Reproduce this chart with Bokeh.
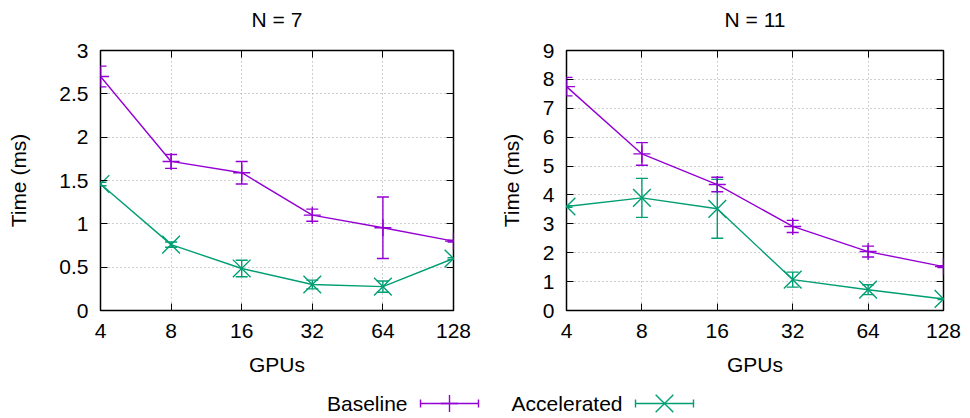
from bokeh.plotting import figure
from bokeh.models import (Range1d, FixedTicker, Whisker, ColumnDataSource, LogAxis,
                          LinearAxis, TeeHead, CustomJSTickFormatter)
from bokeh.layouts import column, row
from bokeh.embed import file_html
from bokeh.resources import INLINE
from bokeh.core.properties import value

# ---------------- data ----------------
GPUS = [4, 8, 16, 32, 64, 128]
GPU_LABELS = ["4", "8", "16", "32", "64", "128"]
PANEL_TITLES = ["N = 7", "N = 11"]

N7_YTICKS = [0, 0.5, 1, 1.5, 2, 2.5, 3]
N7_BASE = [2.70, 1.72, 1.59, 1.10, 0.955, 0.80]
N7_BASE_ERR = [0.12, 0.08, 0.13, 0.07, 0.355, 0.01]
N7_ACC = [1.46, 0.76, 0.485, 0.30, 0.275, 0.60]
N7_ACC_ERR = [0.02, 0.03, 0.095, 0.05, 0.065, 0.01]

N11_YTICKS = [0, 1, 2, 3, 4, 5, 6, 7, 8, 9]
N11_BASE = [7.75, 5.42, 4.36, 2.91, 2.04, 1.52]
N11_BASE_ERR = [0.32, 0.39, 0.25, 0.21, 0.19, 0.03]
N11_ACC = [3.60, 3.90, 3.52, 1.07, 0.72, 0.40]
N11_ACC_ERR = [0.03, 0.675, 1.02, 0.26, 0.17, 0.02]

SERIES_NAMES = ["Baseline", "Accelerated"]

# ---------------- style ----------------
FONT = "Liberation Sans"
FS = "21px"
PURPLE = "#9400D3"
GREEN = "#009E73"
LW = 1.4
PLUS_SIZE = 17
X_SIZE = 25
HEADER_H = 40


def style_axis(ax, show_labels=True):
    ax.axis_line_color = None
    ax.major_tick_in = 7
    ax.major_tick_out = 0
    ax.minor_tick_in = 0
    ax.minor_tick_out = 0
    ax.major_tick_line_color = "black"
    ax.major_tick_line_width = 1
    ax.major_label_text_font = FONT
    ax.major_label_text_font_size = FS if show_labels else "2px"
    ax.major_label_text_color = "black"
    ax.axis_label_text_font = FONT
    ax.axis_label_text_font_size = FS
    ax.axis_label_text_font_style = "normal"
    ax.axis_label_text_color = "black"


def add_series(p, ys, errs, color, marker, msize):
    src = ColumnDataSource(dict(
        x=GPUS, y=ys,
        lo=[y - e for y, e in zip(ys, errs)],
        hi=[y + e for y, e in zip(ys, errs)],
    ))
    p.line("x", "y", source=src, line_color=color, line_width=LW)
    w = Whisker(base="x", lower="lo", upper="hi", source=src, dimension="height",
                line_color=color, line_width=LW,
                upper_head=TeeHead(size=12, line_color=color, line_width=LW),
                lower_head=TeeHead(size=12, line_color=color, line_width=LW))
    p.add_layout(w)
    p.scatter("x", "y", source=src, marker=marker, size=msize,
              line_color=color, fill_color=None, line_width=LW)


def make_panel(ymax, yticks, base, base_err, acc, acc_err,
               width, bl, br, ylab_standoff):
    p = figure(width=width, height=380 - HEADER_H, x_axis_type="log",
               x_range=Range1d(4, 128), y_range=Range1d(0, ymax),
               output_backend="svg", toolbar_location=None,
               min_border_left=bl, min_border_right=br,
               min_border_top=50 - HEADER_H, min_border_bottom=70)
    p.background_fill_color = "white"
    p.border_fill_color = "white"
    p.outline_line_color = "black"
    p.outline_line_width = 1.5

    xt = FixedTicker(ticks=GPUS, minor_ticks=[])
    yt = FixedTicker(ticks=yticks, minor_ticks=[])

    p.xaxis.ticker = xt
    p.xaxis.formatter = CustomJSTickFormatter(code="return String(tick)")
    p.xaxis.major_label_overrides = {g: l for g, l in zip(GPUS, GPU_LABELS)}
    p.xaxis.axis_label = "GPUs"
    p.xaxis.major_label_standoff = 13
    p.xaxis.axis_label_standoff = 12
    p.yaxis.ticker = yt
    p.yaxis.formatter = CustomJSTickFormatter(code="return String(tick)")
    p.yaxis.axis_label = "Time (ms)"
    p.yaxis.major_label_standoff = 12
    p.yaxis.axis_label_standoff = ylab_standoff
    for ax in p.xaxis + p.yaxis:
        style_axis(ax)

    blank = CustomJSTickFormatter(code="return ''")
    top = LogAxis(ticker=FixedTicker(ticks=GPUS, minor_ticks=[]), formatter=blank)
    style_axis(top, show_labels=False)
    top.major_label_standoff = 0
    p.add_layout(top, "above")
    right = LinearAxis(ticker=FixedTicker(ticks=yticks, minor_ticks=[]), formatter=blank)
    style_axis(right, show_labels=False)
    right.major_label_standoff = 0
    p.add_layout(right, "right")

    for g in (p.xgrid, p.ygrid):
        g.grid_line_color = "#a0a0a0"
        g.grid_line_dash = "1 3"
        g.grid_line_width = 1
    p.xgrid.ticker = xt
    p.ygrid.ticker = yt

    add_series(p, base, base_err, PURPLE, "cross", PLUS_SIZE)
    add_series(p, acc, acc_err, GREEN, "x", X_SIZE)
    return p


p1 = make_panel(3, N7_YTICKS, N7_BASE, N7_BASE_ERR, N7_ACC, N7_ACC_ERR,
                485, 100, 32, 26)
p2 = make_panel(9, N11_YTICKS, N11_BASE, N11_BASE_ERR, N11_ACC, N11_ACC_ERR,
                485, 81, 27, 17)


def pixel_figure(h):
    f = figure(width=970, height=h, x_range=Range1d(0, 970), y_range=Range1d(h, 0),
               output_backend="svg", toolbar_location=None,
               x_axis_location=None, y_axis_location=None, min_border=0)
    f.grid.visible = False
    f.outline_line_color = None
    f.background_fill_color = "white"
    f.border_fill_color = "white"
    return f


# ---------------- panel titles (layout coordinates in pixels) ----------------
header = pixel_figure(HEADER_H)
TITLE_CX = [276.5, 754.5]   # centres of the two plot frames
TITLE_Y = 19
header.text(x=TITLE_CX, y=[TITLE_Y, TITLE_Y], text=PANEL_TITLES, text_font=value(FONT),
            text_font_size=value(FS), text_align="center", text_baseline="middle",
            text_color="black")

# ---------------- legend (layout coordinates in pixels) ----------------
leg = pixel_figure(38)
LEG_TEXT_RIGHT = [407, 622]
LEG_SAMPLE = [(420, 478), (635, 693)]
LEG_Y = 23
for name, tx, (x0, x1), color, marker, ms in zip(SERIES_NAMES, LEG_TEXT_RIGHT, LEG_SAMPLE,
                                                 [PURPLE, GREEN], ["cross", "x"],
                                                 [PLUS_SIZE, X_SIZE]):
    leg.text(x=[tx], y=[LEG_Y], text=[name], text_font=value(FONT),
             text_font_size=value(FS), text_align="right", text_baseline="middle",
             text_color="black")
    leg.segment(x0=[x0], y0=[LEG_Y], x1=[x1], y1=[LEG_Y], line_color=color, line_width=LW)
    leg.segment(x0=[x0, x1], y0=[LEG_Y - 4, LEG_Y - 4], x1=[x0, x1], y1=[LEG_Y + 4, LEG_Y + 4],
                line_color=color, line_width=LW)
    leg.scatter(x=[(x0 + x1) / 2], y=[LEG_Y], marker=marker, size=ms,
                line_color=color, line_width=LW)

layout = column(header, row(p1, p2), leg)
open("out.html", "w").write(file_html(layout, INLINE))
